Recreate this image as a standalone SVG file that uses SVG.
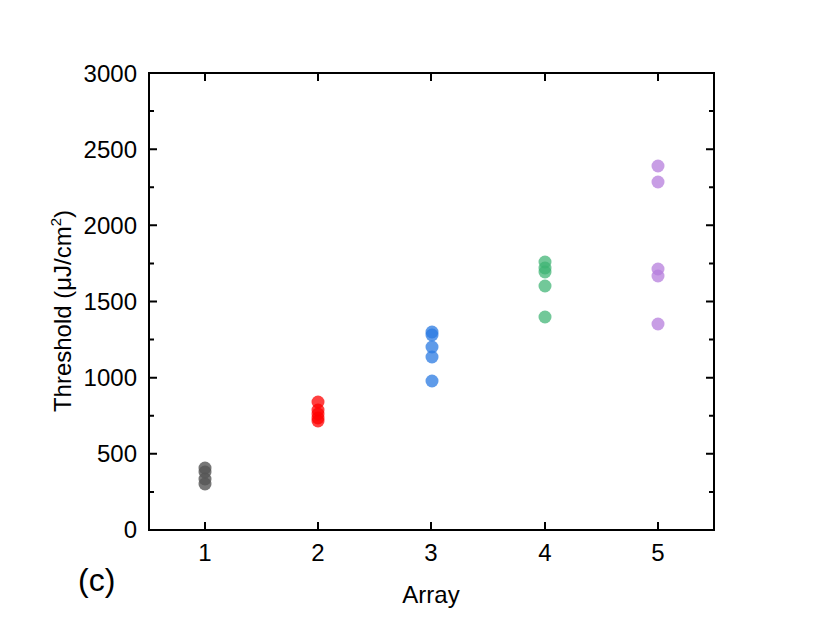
<svg xmlns="http://www.w3.org/2000/svg" width="830" height="636" viewBox="0 0 830 636">
<style>
text{font-family:"Liberation Sans",Arial,sans-serif;fill:#000}
.t{font-size:24px}
.ax{stroke:#000;stroke-width:2;fill:none}
.tk{stroke:#000;stroke-width:2}
.g{fill:#555;fill-opacity:.8}.r{fill:#f00;fill-opacity:.75}.b{fill:#2a7ae2;fill-opacity:.75}.gr{fill:#3cb371;fill-opacity:.72}.p{fill:#b57edc;fill-opacity:.75}
</style>
<rect width="830" height="636" fill="#fff"/>
<g id="axes">
<rect class="ax" x="149" y="73" width="565" height="457"/>
<g class="tk">
<path d="M149 530h8M149 453.8h8M149 377.7h8M149 301.5h8M149 225.3h8M149 149.2h8M149 73h8M149 491.9h5M149 415.8h5M149 339.6h5M149 263.4h5M149 187.3h5M149 111.1h5"/>
<path d="M714 530h-8M714 453.8h-8M714 377.7h-8M714 301.5h-8M714 225.3h-8M714 149.2h-8M714 73h-8M714 491.9h-5M714 415.8h-5M714 339.6h-5M714 263.4h-5M714 187.3h-5M714 111.1h-5"/>
<path d="M205 530v-8M318 530v-8M431 530v-8M545 530v-8M658 530v-8M205 73v8M318 73v8M431 73v8M545 73v8M658 73v8"/>
</g>
<g class="t" text-anchor="end">
<text x="137" y="538">0</text><text x="137" y="462">500</text><text x="137" y="386">1000</text><text x="137" y="310">1500</text><text x="137" y="234">2000</text><text x="137" y="158">2500</text><text x="137" y="82">3000</text>
</g>
<g class="t" text-anchor="middle">
<text x="205" y="561">1</text><text x="318" y="561">2</text><text x="431" y="561">3</text><text x="545" y="561">4</text><text x="658" y="561">5</text>
<text x="431" y="603">Array</text>
</g>
<text class="t" transform="translate(71,311) rotate(-90)" text-anchor="middle">Threshold (μJ/cm<tspan font-size="15" dy="-10">2</tspan><tspan dy="10">)</tspan></text>
<text x="78" y="591" font-size="32">(c)</text>
</g>
<g id="data">
<circle class="g" cx="205" cy="468" r="6.5"/><circle class="g" cx="205" cy="472" r="6.5"/><circle class="g" cx="205" cy="479" r="6.5"/><circle class="g" cx="205" cy="484" r="6.5"/>
<circle class="r" cx="318" cy="402" r="6.5"/><circle class="r" cx="318" cy="410" r="6.5"/><circle class="r" cx="318" cy="414" r="6.5"/><circle class="r" cx="318" cy="418" r="6.5"/><circle class="r" cx="318" cy="421" r="6.5"/>
<circle class="b" cx="432" cy="332" r="6.5"/><circle class="b" cx="432" cy="335" r="6.5"/><circle class="b" cx="432" cy="347" r="6.5"/><circle class="b" cx="432" cy="357" r="6.5"/><circle class="b" cx="432" cy="381" r="6.5"/>
<circle class="gr" cx="545" cy="262" r="6.5"/><circle class="gr" cx="545" cy="268" r="6.5"/><circle class="gr" cx="545" cy="272" r="6.5"/><circle class="gr" cx="545" cy="286" r="6.5"/><circle class="gr" cx="545" cy="317" r="6.5"/>
<circle class="p" cx="658" cy="166" r="6.5"/><circle class="p" cx="658" cy="182" r="6.5"/><circle class="p" cx="658" cy="269" r="6.5"/><circle class="p" cx="658" cy="276" r="6.5"/><circle class="p" cx="658" cy="324" r="6.5"/>
</g>
</svg>
